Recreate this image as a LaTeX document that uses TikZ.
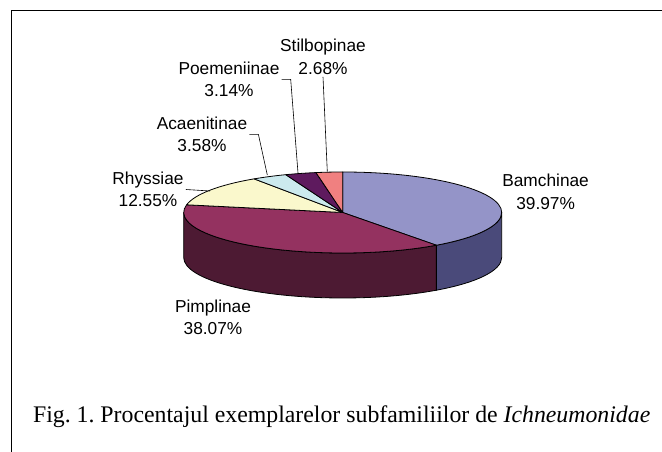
\documentclass[tikz,border=0pt]{standalone}
\usepackage{fontspec}
\setmainfont{Liberation Serif}
\newfontfamily\chartfont{Liberation Sans}
\usepackage{tikz}
\usetikzlibrary{calc}
\usetikzlibrary{positioning}
\frenchspacing

\definecolor{bamtop}{RGB}{148,148,200}
\definecolor{bamside}{RGB}{74,74,122}
\definecolor{pimtop}{RGB}{148,50,96}
\definecolor{pimside}{RGB}{77,26,51}
\definecolor{rhystop}{RGB}{250,248,204}
\definecolor{acaetop}{RGB}{204,234,238}
\definecolor{poemtop}{RGB}{94,26,94}
\definecolor{stiltop}{RGB}{240,128,128}

\begin{document}
\begin{tikzpicture}[x=1pt, y=1pt,
  pie/.style={x radius=159pt, y radius=40.5pt},
  slice/.style={draw=black, line width=0.8pt, line join=round},
  lbl/.style={font=\chartfont\fontsize{17.3}{22.5}\selectfont, align=center, inner sep=2pt},
  leader/.style={draw=black, line width=0.6pt}]
\useasboundingbox (0,0) rectangle (662,452);
% frame
\draw [line width=1.3pt] (11.5,0) -- (11.5,441.3) -- (662,441.3);
% pie
\coordinate (C) at (342.7,239.5);
\draw [slice, fill=bamside] (C) ++(0:159pt and 40.5pt) arc [pie, start angle=0, end angle=-53.9] -- ++(0,-45) arc [pie, start angle=-53.9, end angle=0] -- cycle;
\draw [slice, fill=pimside] (C) ++(-53.9:159pt and 40.5pt) arc [pie, start angle=-53.9, end angle=-180] -- ++(0,-45) arc [pie, start angle=-180, end angle=-53.9] -- cycle;
\draw [slice, fill=bamtop] (C) -- ++(90:159pt and 40.5pt) arc [pie, start angle=90, end angle=-53.9] -- cycle;
\draw [slice, fill=pimtop] (C) -- ++(-53.9:159pt and 40.5pt) arc [pie, start angle=-53.9, end angle=-190.95] -- cycle;
\draw [slice, fill=rhystop] (C) -- ++(-190.95:159pt and 40.5pt) arc [pie, start angle=-190.95, end angle=-236.13] -- cycle;
\draw [slice, fill=acaetop] (C) -- ++(-236.13:159pt and 40.5pt) arc [pie, start angle=-236.13, end angle=-249.02] -- cycle;
\draw [slice, fill=poemtop] (C) -- ++(-249.02:159pt and 40.5pt) arc [pie, start angle=-249.02, end angle=-260.32] -- cycle;
\draw [slice, fill=stiltop] (C) -- ++(-260.32:159pt and 40.5pt) arc [pie, start angle=-260.32, end angle=-270] -- cycle;
% labels
\node [lbl] (bam) at (545.6,260.1) {Bamchinae\\39.97\%};
\node [lbl] (pim) at (213,134.5) {Pimplinae\\38.07\%};
\node [lbl] (rhys) at (148,262.5) {Rhyssiae\\12.55\%};
\node [lbl] (acae) at (202,317.6) {Acaenitinae\\3.58\%};
\node [lbl] (poem) at (229,372.6) {Poemeniinae\\3.14\%};
\node [lbl] (stil) at (323,395) {Stilbopinae\\2.68\%};
% leaders
\coordinate (rhystip) at (210,261);
\coordinate (acaetip) at (267.3,277);
\coordinate (poemtip) at (298,279);
\coordinate (stiltip) at (327.3,280.3);
\draw [leader] (rhys.east) to (rhystip);
\draw [leader] (acae.east) -- ++(9,0) -- (acaetip);
\draw [leader] (poem.east) -- ++(9,0) -- (poemtip);
\draw [leader] (stil.south) to (stiltip);
% caption
\node [anchor=base, font=\fontsize{23.8}{28}\selectfont] (cap) at (341.7,29.7) {Fig. 1. Procentajul exemplarelor subfamiliilor de \textit{Ichneumonidae}};
\end{tikzpicture}
\end{document}
